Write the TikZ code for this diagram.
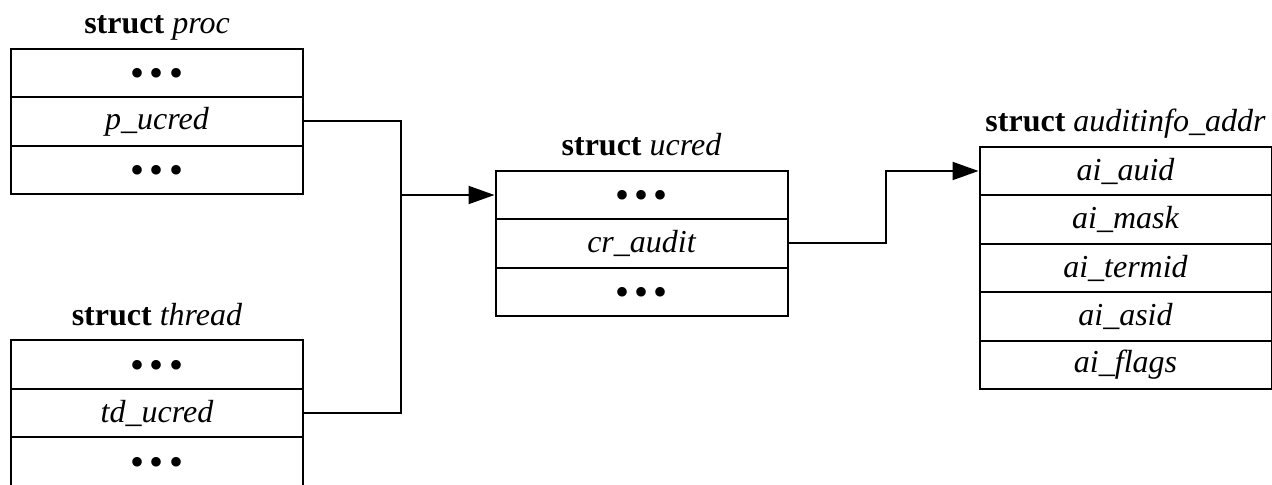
\documentclass[tikz,border=0pt]{standalone}
\usepackage{fontspec}
\setmainfont{Liberation Serif}
\usetikzlibrary{arrows.meta,positioning}

\newcommand{\moredots}{\raisebox{-7pt}[0pt][0pt]{\fontsize{20}{20}\selectfont\upshape •\hspace{2.6pt}•\hspace{2.6pt}•}}

\begin{document}
\begin{tikzpicture}[
    field/.style={draw, line width=1pt, minimum width=146pt, minimum height=24.25pt, inner sep=0pt, font=\fontsize{16}{19}\selectfont\itshape},
    heading/.style={anchor=base, inner sep=0pt, font=\fontsize{16}{19}\selectfont},
    link/.style={line width=1pt},
    >={Triangle[length=13pt,width=9pt]}
]
\useasboundingbox (0,0) rectangle (636pt,-242.5pt);

% struct proc
\foreach \txt [count=\i] in {\moredots, p\_ucred, \moredots} {
    \node[field] (proc\i) at (78.5pt,{(-36.5-(\i-1)*24.25)*1pt}) {\txt};
}
\node[heading] (proctitle) at ([yshift=7pt]proc1.north) {\textbf{struct} \textit{proc}};

% struct thread
\foreach \txt [count=\i] in {\moredots, td\_ucred, \moredots} {
    \node[field] (thread\i) at (78.5pt,{(-182.25-(\i-1)*24.25)*1pt}) {\txt};
}
\node[heading] (threadtitle) at ([yshift=7pt]thread1.north) {\textbf{struct} \textit{thread}};

% struct ucred
\foreach \txt [count=\i] in {\moredots, cr\_audit, \moredots} {
    \node[field] (ucred\i) at (320.75pt,{(-97.5-(\i-1)*24.25)*1pt}) {\txt};
}
\node[heading] (ucredtitle) at ([yshift=7pt]ucred1.north) {\textbf{struct} \textit{ucred}};

% struct auditinfo_addr
\foreach \txt [count=\i] in {ai\_auid, ai\_mask, ai\_termid, ai\_asid, ai\_flags} {
    \node[field] (ai\i) at (562.75pt,{(-85.5-(\i-1)*24.25)*1pt}) {\txt};
}
\node[heading] (aititle) at ([yshift=7pt]ai1.north) {\textbf{struct} \textit{auditinfo\_addr}};

% Pointers
\draw[link] (proc2.east) -- ++(48.5pt,0) coordinate (merge) |- (thread2.east);
\draw[link, ->] (merge |- ucred1.west) -- (ucred1.west);
\draw[link, ->] (ucred2.east) -- ++(48.5pt,0) |- (ai1.west);

\end{tikzpicture}
\end{document}
